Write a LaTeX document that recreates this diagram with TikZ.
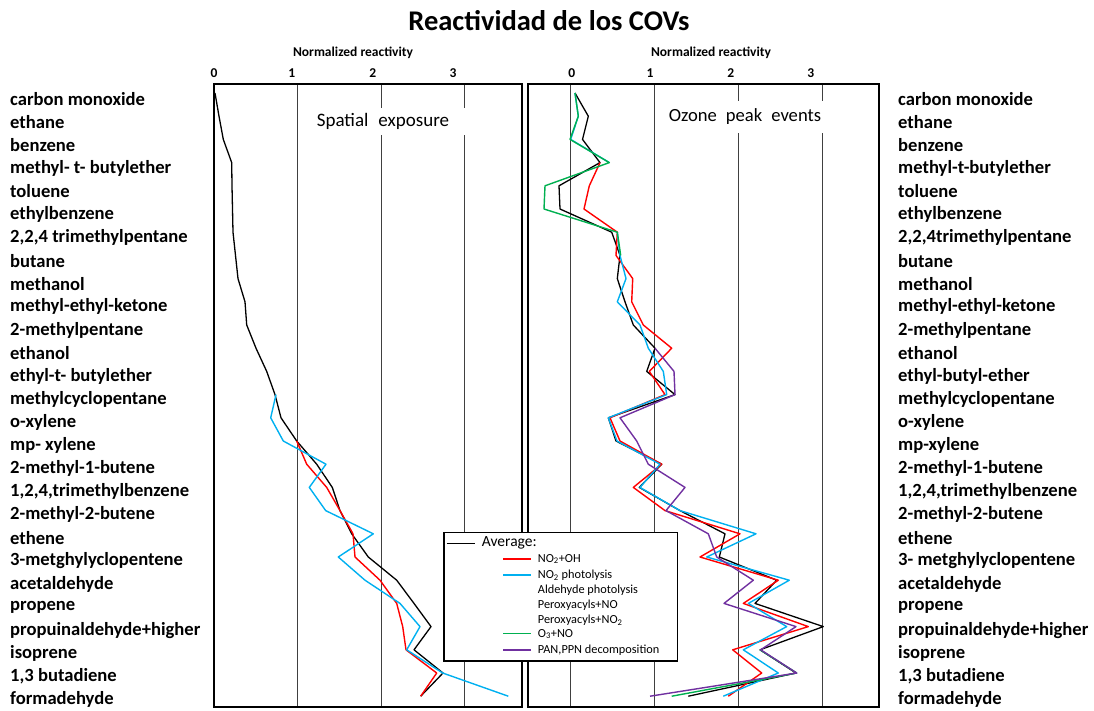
\documentclass[tikz,border=0pt]{standalone}
\usepackage{fontspec}
\setmainfont{Carlito}
\definecolor{cred}{RGB}{255,0,0}
\definecolor{cblue}{RGB}{0,176,240}
\definecolor{cgreen}{RGB}{0,176,80}
\definecolor{cpurple}{RGB}{112,48,160}
\begin{document}
\begin{tikzpicture}[x=1pt,y=-1pt,
  lbl/.style={anchor=west,font=\fontsize{18.6}{19}\selectfont\bfseries,inner sep=0pt},
  axt/.style={font=\fontsize{13.5}{14}\selectfont\bfseries,inner sep=0pt},
  frame/.style={draw=black,line width=1.6pt},
  gridln/.style={draw=black!75,line width=0.9pt},
  inlbl/.style={fill=white,inner sep=0pt},
  avg/.style={black,line width=1.3pt,line join=round},
  sred/.style={cred,line width=1.4pt,line join=round},
  sblue/.style={cblue,line width=1.4pt,line join=round},
  sgreen/.style={cgreen,line width=1.4pt,line join=round},
  spurple/.style={cpurple,line width=1.4pt,line join=round},
  legline/.style={line width=1.6pt},
  legt/.style={anchor=west,inner sep=0pt,font=\fontsize{12.3}{13}\selectfont}]
\useasboundingbox (0,0) rectangle (1094,710);

% title
\node[font=\fontsize{28.5}{29}\selectfont\bfseries,inner sep=0pt] (title) at (549,21) {Reactividad de los COVs};

% axis titles and ticks
\node[axt] (axl) at (353,53) {Normalized reactivity};
\node[axt] (axr) at (711,53) {Normalized reactivity};
\node[axt] (tl0) at (214,73) {0};
\node[axt] (tl1) at (291.7,73) {1};
\node[axt] (tl2) at (372.7,73) {2};
\node[axt] (tl3) at (453,73) {3};
\node[axt] (tr0) at (571.7,73) {0};
\node[axt] (tr1) at (650,73) {1};
\node[axt] (tr2) at (730.7,73) {2};
\node[axt] (tr3) at (810.7,73) {3};

% gridlines
\foreach \gx in {297.3,381,464.3} \draw[gridln] (\gx,84) -- (\gx,707);
\foreach \gx in {570.7,654.7,738.3,822.3} \draw[gridln] (\gx,84) -- (\gx,707);

% frames
\draw[frame] (214,84) rectangle (522,707);
\draw[frame] (528,84) rectangle (879,707);

% in-panel labels
\node[inlbl,minimum width=164pt,minimum height=27pt,font=\fontsize{19}{19}\selectfont] (sp) at (383,121) {Spatial\hspace{10pt}exposure};
\node[inlbl,minimum width=166pt,minimum height=32pt,font=\fontsize{18.6}{19}\selectfont] (oz) at (745,117) {Ozone\hspace{9pt}peak\hspace{9pt}events};

% row labels
\foreach \t [count=\i from 0] in {carbon monoxide, ethane, benzene, methyl- t- butylether, toluene, ethylbenzene, {2,2,4 trimethylpentane}, butane, methanol, methyl-ethyl-ketone, 2-methylpentane, ethanol, ethyl-t- butylether, methylcyclopentane, o-xylene, mp- xylene, 2-methyl-1-butene, {1,2,4,trimethylbenzene}, 2-methyl-2-butene, ethene, 3-metghylyclopentene, acetaldehyde, propene, propuinaldehyde+higher, isoprene, {1,3 butadiene}, formadehyde}
  \node[lbl] (l\i) at (10,{99+23.1*\i}) {\t};
\foreach \t [count=\i from 0] in {carbon monoxide, ethane, benzene, methyl-t-butylether, toluene, ethylbenzene, {2,2,4trimethylpentane}, butane, methanol, methyl-ethyl-ketone, 2-methylpentane, ethanol, ethyl-butyl-ether, methylcyclopentane, o-xylene, mp-xylene, 2-methyl-1-butene, {1,2,4,trimethylbenzene}, 2-methyl-2-butene, ethene, 3- metghylyclopentene, acetaldehyde, propene, propuinaldehyde+higher, isoprene, {1,3 butadiene}, formadehyde}
  \node[lbl] (r\i) at (898,{99+23.1*\i}) {\t};

% curves
\begin{scope}[y=-23.2pt,yshift=-93pt]
% left panel
\draw[avg] plot coordinates {(215,0) (219,1) (223.3,2) (231.7,3) (232,4) (232.5,5) (233,6) (235.5,7) (238,8) (245,9) (246.7,10) (256,11) (266.7,12) (275,13) (281,14) (296.7,15) (316.7,16) (332.3,17) (340,18) (351.7,19) (368.3,20) (396.7,21) (414,22) (431,23) (414,24) (443,25) (420.7,26)};
\draw[sred] plot coordinates {(296.7,15) (306.7,16) (326.7,17) (340,18) (353,19) (355,20) (380,21) (396.7,22) (402.7,23) (406,24) (436.7,25) (420.7,26)};
\draw[sblue] plot coordinates {(276,13) (270.7,14) (283.3,15) (326,16) (309.3,17) (325.7,18) (373.3,19) (338.3,20) (365,21) (400,22) (420,23) (406.7,24) (442.7,25) (508.3,26)};
% right panel
\draw[avg] plot coordinates {(575,0) (588.3,1) (582.5,2) (600,3) (559,4) (560,5) (611.7,6) (620,7) (617.3,8) (625,9) (633.3,10) (655,11) (646.7,12) (675,13) (608.3,14) (616,15) (661.7,16) (639.3,17) (680,18) (725,19) (719.3,20) (776.7,21) (755,22) (823.3,23) (760,24) (796,25) (688.3,26)};
\draw[sred] plot coordinates {(600,3) (589.3,4) (584,5) (617.3,6) (616,7) (632.7,8) (631.7,9) (643.3,10) (671.7,11) (649.3,12) (665,13) (610,14) (620,15) (661.7,16) (633.3,17) (665,18) (740,19) (700,20) (778.3,21) (743.3,22) (808.3,23) (732.7,24) (761.7,25) (728.3,26)};
\draw[sblue] plot coordinates {(575,0) (578.3,1) (570.7,2) (609.3,3)};
\draw[sblue] plot coordinates {(617.3,6) (620,7) (626,8) (617.3,9) (640,10) (648.3,11) (663.3,12) (666.7,13) (608.3,14) (617,15) (660,16) (640,17) (680,18) (756,19) (706.7,20) (789.3,21) (748.3,22) (786.7,23) (743.3,24) (778.3,25) (723.3,26)};
\draw[sgreen] plot coordinates {(575,0) (578.3,1) (570,2) (609.3,3) (545,4) (544,5) (617.3,6) (620.7,7)};
\draw[sgreen] plot coordinates {(760,24) (796.7,25) (671.7,26)};
\draw[spurple] plot coordinates {(655,11) (674,12) (675,13) (620,14) (636.7,15) (648.3,16) (685,17) (666,18) (708.3,19) (716.7,20) (753.3,21) (724,22) (796,23) (760.7,24) (796.7,25) (650,26)};
\end{scope}

% legend
\draw[black,line width=1.3pt,fill=white] (444,532.3) rectangle (677.3,661);
\coordinate (la1) at (446.7,543.3); \coordinate (la2) at (475,543.3);
\draw[avg] (la1) -- (la2);
\node[legt,font=\fontsize{15.5}{16}\selectfont] (lavg) at (481.7,543.3) {Average:};
\coordinate (lr1) at (503.3,559); \coordinate (lr2) at (530.7,559);
\draw[sred,legline] (lr1) -- (lr2);
\node[legt] (lno2oh) at (537.7,559) {NO\textsubscript{2}+OH};
\coordinate (lb1) at (503.3,575); \coordinate (lb2) at (530.7,575);
\draw[sblue,legline] (lb1) -- (lb2);
\node[legt] (lno2ph) at (537.7,575) {NO\textsubscript{2} photolysis};
\node[legt] (lald) at (537.7,590) {Aldehyde photolysis};
\node[legt] (lpno) at (537.7,605) {Peroxyacyls+NO};
\node[legt] (lpno2) at (537.7,620) {Peroxyacyls+NO\textsubscript{2}};
\coordinate (lg1) at (503.3,633.3); \coordinate (lg2) at (530.7,633.3);
\draw[sgreen,legline] (lg1) -- (lg2);
\node[legt] (lo3) at (537.7,634) {O\textsubscript{3}+NO};
\coordinate (lp1) at (503.3,650); \coordinate (lp2) at (530.7,650);
\draw[spurple,legline] (lp1) -- (lp2);
\node[legt] (lpan) at (537.7,650) {PAN,PPN decomposition};
\end{tikzpicture}
\end{document}
